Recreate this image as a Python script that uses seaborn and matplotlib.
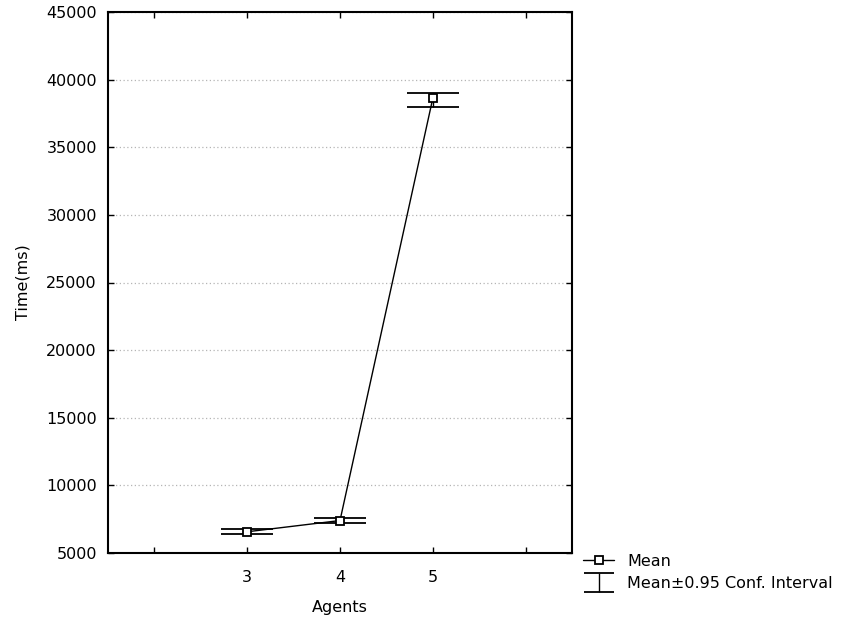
import matplotlib
matplotlib.use("Agg")
import matplotlib.pyplot as plt
from matplotlib.legend_handler import HandlerErrorbar
import numpy as np
import seaborn as sns
import pandas as pd

# Mean run time per number of agents, with 95% confidence bounds
agents = [3, 4, 5]
mean_time = [6570, 7400, 38620]
ci_low = [6380, 7240, 37950]
ci_high = [6750, 7560, 38990]

x_ticks = [2, 3, 4, 5, 6]
x_tick_labels = ["", "3", "4", "5", ""]
y_ticks = [5000, 10000, 15000, 20000, 25000, 30000, 35000, 40000, 45000]

FS = 11.5

sns.set_style("ticks")
plt.rcParams["font.family"] = ["DejaVu Sans"]
plt.rcParams["font.size"] = FS
plt.rcParams["text.color"] = "black"
plt.rcParams["axes.labelcolor"] = "black"

df = pd.DataFrame({"Agents": agents, "Time": mean_time})

fig = plt.figure(figsize=(8.5, 6.28), dpi=100)
ax = fig.add_axes([108 / 850, 1 - 553 / 628, (572 - 108) / 850, (553 - 12) / 628])

yerr = [[m - lo for m, lo in zip(mean_time, ci_low)],
        [hi - m for m, hi in zip(mean_time, ci_high)]]
ax.errorbar(agents, mean_time, yerr=yerr, fmt="none", ecolor="black",
            elinewidth=1, capsize=19, capthick=1.3, zorder=3)

sns.lineplot(data=df, x="Agents", y="Time", ax=ax, color="black", lw=1,
             marker="s", markersize=6, markerfacecolor="white",
             markeredgecolor="black", markeredgewidth=1.3, zorder=4,
             label="Mean", legend=False)

# narrower I-beam used only as the legend key for the interval
ci_key = ax.errorbar([np.nan], [np.nan], yerr=[[1], [1]], fmt="none",
                     ecolor="black", elinewidth=1, capsize=11, capthick=1.3,
                     label="Mean\u00b10.95 Conf. Interval")

ax.set_xlim(1.5, 6.5)
ax.set_ylim(5000, 45000)
ax.set_xticks(x_ticks)
ax.set_xticklabels(x_tick_labels)
ax.set_yticks(y_ticks)
ax.set_yticklabels([str(v) for v in y_ticks])

ax.yaxis.grid(True, color="#b5b5b5", linestyle=(0, (1, 2)), linewidth=0.9)
ax.xaxis.grid(False)
ax.set_axisbelow(True)

for s in ax.spines.values():
    s.set_visible(True)
    s.set_color("black")
    s.set_linewidth(1.5)

ax.tick_params(direction="in", top=True, right=True, length=4, width=1,
               colors="black", labelsize=FS)
ax.tick_params(axis="y", pad=8)
ax.tick_params(axis="x", pad=12)

ax.set_xlabel("Agents", fontsize=FS, labelpad=11, color="black")
ax.set_ylabel("Time(ms)", fontsize=FS, labelpad=11, color="black")

handles, labels = ax.get_legend_handles_labels()
order = [labels.index("Mean"), labels.index("Mean\u00b10.95 Conf. Interval")]
leg = fig.legend([handles[i] for i in order], [labels[i] for i in order],
                 loc="upper left", bbox_to_anchor=(583 / 850, 1 - 554 / 628),
                 frameon=False, borderpad=0, borderaxespad=0, handlelength=1.95,
                 handletextpad=0.8, labelspacing=0.45, fontsize=FS,
                 handler_map={type(ci_key): HandlerErrorbar(yerr_size=0.6)})
for t in leg.get_texts():
    t.set_color("black")

fig.savefig("out.png", dpi=100)
